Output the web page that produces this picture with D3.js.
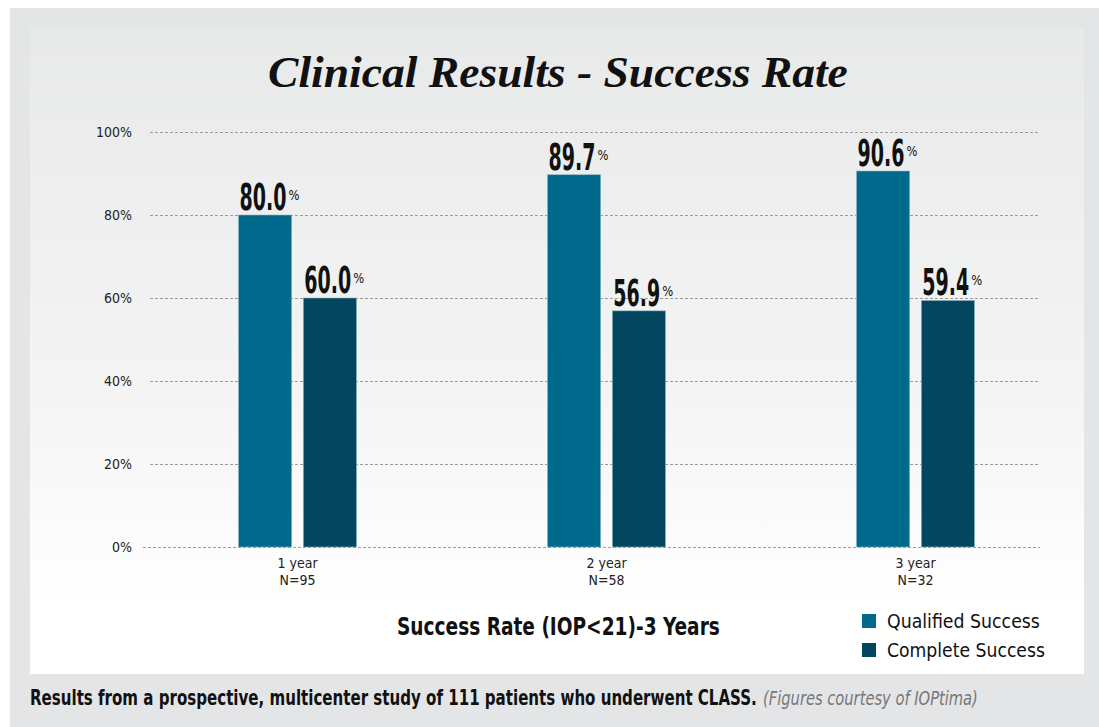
<!DOCTYPE html>
<html>
<head>
<meta charset="utf-8">
<script src="https://cdn.jsdelivr.net/npm/d3@7"></script>
<style>
  body { margin: 0; background: #fff; }
  svg { display: block; }
</style>
</head>
<body>
<svg id="chart"></svg>
<script>
const width = 1099;
const height = 727;

// data
const years = ["1 year", "2 year", "3 year"];
const sampleSizes = ["N=95", "N=58", "N=32"];
const series = ["Qualified Success", "Complete Success"];
const qualified = [80.0, 89.7, 90.6];
const complete = [60.0, 56.9, 59.4];
const yTicks = [0, 20, 40, 60, 80, 100];

const colors = d3.scaleOrdinal().domain(series).range(["#006a8c", "#02465f"]);

const rows = years.map((y, i) => ({
  year: y,
  n: sampleSizes[i],
  values: [
    { key: series[0], value: qualified[i] },
    { key: series[1], value: complete[i] }
  ]
}));

const svg = d3.select("#chart").attr("width", width).attr("height", height);

// squeeze a text horizontally to a target width (the original uses condensed faces)
function squeeze(sel, w) {
  sel.each(function(d, i) {
    const t = d3.select(this);
    const x = +t.attr("x") || 0, yy = +t.attr("y") || 0;
    const target = typeof w === "function" ? w(d, i) : w;
    const natural = this.getComputedTextLength();
    t.attr("x", 0).attr("y", 0)
      .attr("transform", `translate(${x},${yy}) scale(${target / natural},1)`);
  });
}

// panels
const defs = svg.append("defs");
const grad = defs.append("linearGradient").attr("id", "bg").attr("x1", 0).attr("x2", 0).attr("y1", 0).attr("y2", 1);
grad.append("stop").attr("offset", "0%").attr("stop-color", "#e8e9e9");
grad.append("stop").attr("offset", "55%").attr("stop-color", "#f4f4f4");
grad.append("stop").attr("offset", "90%").attr("stop-color", "#ffffff");

svg.append("rect").attr("x", 10).attr("y", 8).attr("width", width - 10).attr("height", 719).attr("fill", "#e4e5e7");
svg.append("rect").attr("x", 30).attr("y", 28).attr("width", 1054).attr("height", 646).attr("fill", "url(#bg)");

// title
svg.append("text")
  .attr("x", 268).attr("y", 87)
  .style("font-family", "'Liberation Serif', 'DejaVu Serif', serif")
  .style("font-weight", "bold").style("font-style", "italic")
  .style("font-size", "45px").attr("fill", "#111")
  .text("Clinical Results - Success Rate")
  .call(squeeze, 580);

// scales
const y = d3.scaleLinear().domain([0, 100]).range([547, 132]);
const x0 = d3.scaleBand().domain(years).range([143, 1070]);
const x1 = d3.scaleBand().domain(series).range([-59, 59]).paddingInner(0.18);

const narrow = "'Liberation Sans Narrow', 'DejaVu Sans Condensed', 'Liberation Sans', sans-serif";

// gridlines
svg.append("g")
  .selectAll("line")
  .data(yTicks)
  .join("line")
  .attr("x1", d => d === 0 ? 143 : 150)
  .attr("x2", 1040)
  .attr("y1", d => y(d) + 0.5)
  .attr("y2", d => y(d) + 0.5)
  .attr("stroke", "#9c9c9c")
  .attr("stroke-dasharray", "3,2");

// y axis labels
const yAxis = svg.append("g")
  .attr("transform", "translate(150,0)")
  .call(d3.axisLeft(y).tickValues(yTicks).tickSize(0).tickPadding(18).tickFormat(d => d + "%"));
yAxis.select(".domain").remove();
yAxis.selectAll("text")
  .style("font-family", narrow).style("font-size", "14px").attr("fill", "#222");

// bars
const groups = svg.append("g")
  .selectAll("g")
  .data(rows)
  .join("g")
  .attr("transform", d => `translate(${x0(d.year) + x0.bandwidth() / 2},0)`);

groups.selectAll("rect")
  .data(d => d.values)
  .join("rect")
  .attr("x", d => x1(d.key))
  .attr("y", d => y(d.value))
  .attr("width", x1.bandwidth())
  .attr("height", d => y(0) - y(d.value))
  .attr("fill", d => colors(d.key))
  .attr("stroke", "#8fb3c4")
  .attr("stroke-width", 0.6);

// value labels: number, then a small raised percent sign beside it
groups.selectAll("text.val")
  .data(d => d.values)
  .join("text")
  .attr("class", "val")
  .attr("x", d => x1(d.key) + 1)
  .attr("y", d => y(d.value) - 5)
  .style("font-family", narrow).style("font-weight", "bold")
  .style("font-size", "37px").attr("fill", "#111")
  .text(d => d.value.toFixed(1))
  .call(squeeze, 47);

groups.selectAll("text.pct")
  .data(d => d.values)
  .join("text")
  .attr("class", "pct")
  .attr("x", d => x1(d.key) + 50)
  .attr("y", d => y(d.value) - 15)
  .style("font-family", narrow)
  .style("font-size", "14px").attr("fill", "#111")
  .text("%")
  .call(squeeze, 11);

// x labels
groups.append("text")
  .attr("y", 568).attr("text-anchor", "middle")
  .style("font-family", narrow).style("font-size", "14px").attr("fill", "#222")
  .text(d => d.year);
groups.append("text")
  .attr("y", 585).attr("text-anchor", "middle")
  .style("font-family", narrow).style("font-size", "14px").attr("fill", "#222")
  .text(d => d.n);

// axis title
svg.append("text")
  .attr("x", 397).attr("y", 635)
  .style("font-family", narrow).style("font-weight", "bold").style("font-size", "25px")
  .attr("fill", "#111")
  .text("Success Rate (IOP<21)-3 Years")
  .call(squeeze, 323);

// legend
const legend = svg.append("g")
  .selectAll("g")
  .data(series)
  .join("g")
  .attr("transform", (d, i) => `translate(862,${614 + i * 29})`);
legend.append("rect").attr("width", 14).attr("height", 14).attr("fill", d => colors(d));
legend.append("text")
  .attr("x", 25).attr("y", 14)
  .style("font-family", narrow).style("font-size", "20px").attr("fill", "#111")
  .text(d => d)
  .call(squeeze, (d, i) => i === 0 ? 153 : 158);

// caption
svg.append("text")
  .attr("x", 30).attr("y", 705)
  .style("font-family", narrow).style("font-weight", "bold").style("font-size", "21px")
  .attr("fill", "#111")
  .text("Results from a prospective, multicenter study of 111 patients who underwent CLASS.")
  .call(squeeze, 727);
svg.append("text")
  .attr("x", 763).attr("y", 705)
  .style("font-family", narrow).style("font-style", "italic").style("font-size", "19px")
  .attr("fill", "#777")
  .text("(Figures courtesy of IOPtima)")
  .call(squeeze, 215);
</script>
</body>
</html>
